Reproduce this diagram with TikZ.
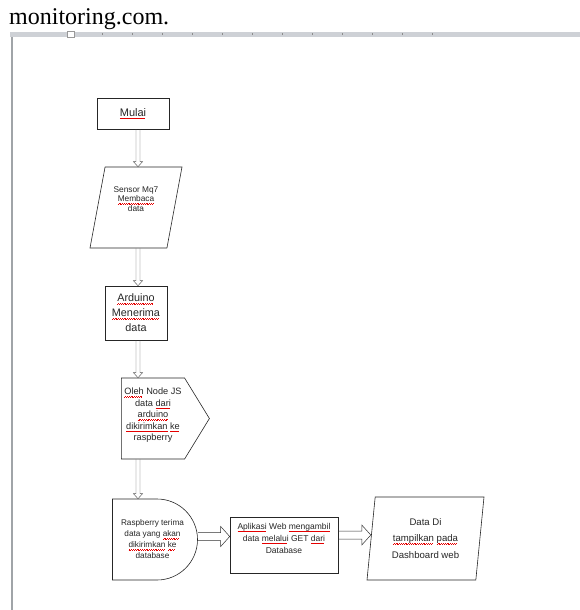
\documentclass[tikz,border=0pt]{standalone}
\usepackage{fontspec}
\setmainfont{Liberation Sans}
\newfontfamily\pagefont{Liberation Serif}
\usetikzlibrary{shapes.geometric,shapes.symbols,shapes.misc,calc}

\definecolor{rulergray}{RGB}{206,209,214}
\definecolor{edgegray}{RGB}{160,164,168}

% red spell-check wave under a word
\newcommand\typo[1]{\setbox0\hbox{#1}\rlap{\color{red!90!black}\leaders\hbox{\raisebox{-2.1pt}{\rule{0.9pt}{0.35pt}}\raisebox{-1.6pt}{\rule{0.9pt}{0.35pt}}}\hskip\wd0}\box0\relax}

\tikzset{
  box/.style={draw=black!85, line width=0.6pt, align=center, inner sep=1pt, text=black!85},
  io/.style={box, trapezium, trapezium stretches body},
  vflow/.style={draw=black!65, line width=0.45pt, to path={
      let \p1=(\tikztostart), \p2=(\tikztotarget) in
      (\x1-2pt,\y1) -- (\x1-2pt,\y2+5pt) -- (\x1-4.5pt,\y2+5pt) -- (\x1,\y2)
      -- (\x1+4.5pt,\y2+5pt) -- (\x1+2pt,\y2+5pt) -- (\x1+2pt,\y1)}},
  hflow/.style={draw=black!80, line width=0.5pt, to path={
      let \p1=(\tikztostart), \p2=(\tikztotarget) in
      (\x1,\y1+4pt) -- (\x2-9pt,\y1+4pt) -- (\x2-9pt,\y1+10pt) -- (\x2,\y1)
      -- (\x2-9pt,\y1-10pt) -- (\x2-9pt,\y1-4pt) -- (\x1,\y1-4pt)}},
}

\begin{document}
\begin{tikzpicture}[x=1pt,y=-1pt]
  \useasboundingbox[fill=white] (0,0) rectangle (580,610);
  % page around the drawing
  \node[anchor=base west, inner sep=0, font=\pagefont\fontsize{24}{26}\selectfont] (head) at (9,25) {monitoring.com.};
  \fill[rulergray] (10,32) rectangle (580,37);
  \foreach \i in {0,...,11}
    \draw[black!45, line width=0.5pt] ({102+30*\i},33.5) -- ++(0,2);
  \draw[black!40, fill=white, line width=0.4pt] (67,31.5) rectangle (74,37);
  \fill[edgegray] (10.5,37) rectangle (13,610);
  % flowchart
  \coordinate (col) at (138,0);
  \node[box, minimum width=72, minimum height=31, font=\fontsize{11}{13}\selectfont] (mulai) at (133,113.5) {\typo{Mulai}};
  \node[io, trapezium left angle=71, trapezium right angle=109, minimum width=92, minimum height=81, text depth=17pt,
        font=\fontsize{8.3}{9.5}\selectfont] (sensor) at (136,207.5) {Sensor Mq7\\\typo{Membaca}\\data};
  \node[box, minimum width=62, minimum height=54, font=\fontsize{10.8}{15}\selectfont] (arduino) at (136,313)
        {\typo{Arduino}\\\typo{Menerima}\\data};
  \node[box, signal, signal to=east, signal pointer angle=117, minimum width=88, minimum height=81, text depth=8pt,
        font=\fontsize{9.2}{11.5}\selectfont] (oleh) at (153,418.5)
        {\typo{Oleh} Node JS\\data \typo{dari}\\\typo{arduino}\\\typo{dikirimkan} \typo{ke}\\raspberry};
  \node[box, rounded rectangle, rounded rectangle west arc=none, minimum width=87, minimum height=81,
        font=\fontsize{8.2}{11}\selectfont] (rasp) at (152.5,539.5)
        {Raspberry terima\\data yang \typo{akan}\\\typo{dikirimkan} \typo{ke}\\database};
  \node[box, minimum width=108, minimum height=56, text depth=13pt, font=\fontsize{8.5}{12}\selectfont] (apl) at (284,545)
        {\typo{Aplikasi} Web \typo{mengambil}\\data \typo{melalui} GET \typo{dari}\\Database};
  \node[io, trapezium left angle=79, trapezium right angle=101, minimum width=117, minimum height=83,
        font=\fontsize{9.6}{16.5}\selectfont] (show) at (425.5,538.5)
        {Data Di\\\typo{tampilkan} \typo{pada}\\Dashboard web};
  \draw[vflow] (mulai.south -| col) to (sensor.north -| col);
  \draw[vflow] (sensor.south -| col) to (arduino.north -| col);
  \draw[vflow] (arduino.south -| col) to (oleh.north -| col);
  \draw[vflow] (oleh.south -| col) to (rasp.north -| col);
  \draw[hflow] ([yshift=3pt]rasp.east) to ([yshift=3pt]rasp.east -| apl.west);
  \draw[hflow] ([yshift=10pt]apl.east) to ([yshift=10pt]apl.east -| show.west);
\end{tikzpicture}
\end{document}
